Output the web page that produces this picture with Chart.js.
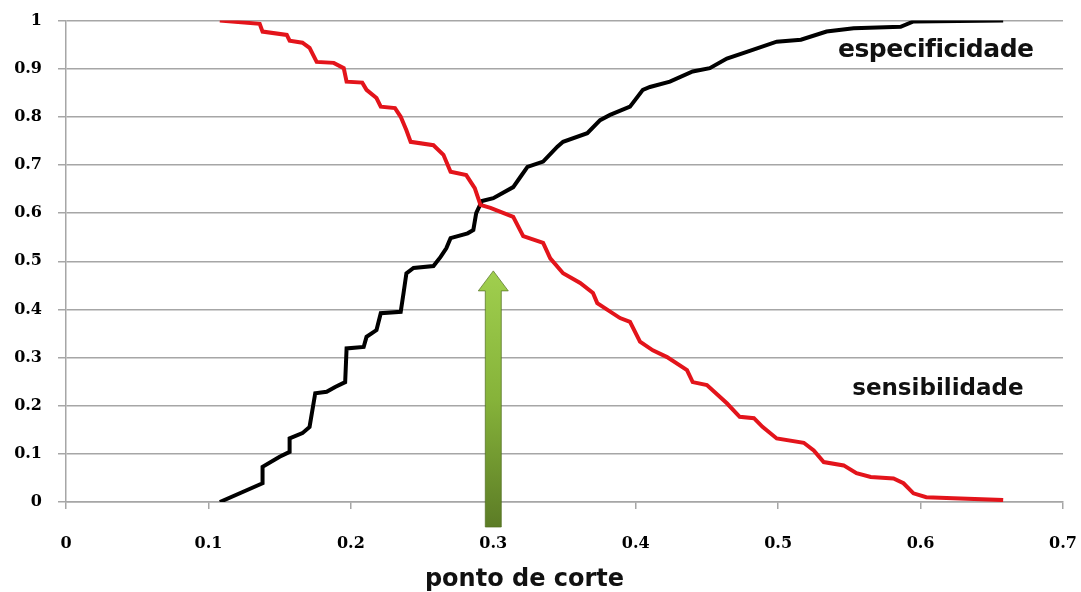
<!DOCTYPE html>
<html>
<head>
<meta charset="utf-8">
<script src="https://cdn.jsdelivr.net/npm/chart.js@4/dist/chart.umd.min.js"></script>
<style>
  html, body { margin: 0; padding: 0; background: #fff; }
  #wrap { width: 1081px; height: 592px; }
</style>
</head>
<body>
<div id="wrap"><canvas id="cutoffChart"></canvas></div>
<script>
// sensibilidade (red)
const sensX = [0.108, 0.136, 0.138, 0.155, 0.157, 0.166, 0.171, 0.176, 0.188, 0.195, 0.197, 0.208, 0.211, 0.218, 0.221,
  0.231, 0.235, 0.239, 0.242, 0.258, 0.265, 0.270, 0.281, 0.287, 0.291, 0.298, 0.314, 0.321, 0.335, 0.340, 0.349,
  0.361, 0.370, 0.373, 0.389, 0.396, 0.403, 0.412, 0.422, 0.436, 0.440, 0.450, 0.464, 0.473, 0.483, 0.489, 0.499,
  0.518, 0.525, 0.532, 0.546, 0.555, 0.565, 0.581, 0.588, 0.595, 0.604, 0.623, 0.658];
const sensY = [1.0, 0.993, 0.977, 0.970, 0.958, 0.954, 0.943, 0.914, 0.912, 0.901, 0.873, 0.871, 0.856, 0.839, 0.821,
  0.818, 0.800, 0.772, 0.748, 0.741, 0.721, 0.686, 0.679, 0.652, 0.617, 0.611, 0.592, 0.552, 0.538, 0.506, 0.475,
  0.455, 0.434, 0.413, 0.382, 0.374, 0.333, 0.315, 0.301, 0.274, 0.249, 0.243, 0.205, 0.177, 0.174, 0.156, 0.132,
  0.123, 0.107, 0.083, 0.076, 0.060, 0.052, 0.049, 0.039, 0.018, 0.010, 0.008, 0.004];

// especificidade (black)
const espX = [0.108, 0.138, 0.138, 0.150, 0.157, 0.157, 0.166, 0.171, 0.175, 0.183, 0.189, 0.196, 0.197, 0.209, 0.211,
  0.218, 0.221, 0.235, 0.237, 0.239, 0.244, 0.258, 0.263, 0.267, 0.270, 0.282, 0.286, 0.288, 0.292, 0.300, 0.314,
  0.319, 0.324, 0.335, 0.345, 0.349, 0.366, 0.375, 0.382, 0.396, 0.405, 0.410, 0.424, 0.440, 0.452, 0.464, 0.478,
  0.499, 0.516, 0.534, 0.553, 0.586, 0.595, 0.658];
const espY = [0.0, 0.039, 0.073, 0.094, 0.104, 0.132, 0.143, 0.156, 0.226, 0.229, 0.239, 0.249, 0.319, 0.322, 0.343,
  0.357, 0.392, 0.395, 0.434, 0.475, 0.486, 0.490, 0.509, 0.527, 0.548, 0.558, 0.565, 0.600, 0.625, 0.631, 0.654,
  0.675, 0.696, 0.707, 0.738, 0.748, 0.766, 0.793, 0.804, 0.821, 0.856, 0.862, 0.873, 0.894, 0.901, 0.921, 0.935,
  0.956, 0.960, 0.977, 0.984, 0.987, 0.998, 1.0];

const xTicks = [0, 0.1, 0.2, 0.3, 0.4, 0.5, 0.6, 0.7];
const yTicks = [0, 0.1, 0.2, 0.3, 0.4, 0.5, 0.6, 0.7, 0.8, 0.9, 1];
const cutoff = 0.3;
const cutoffLabel = 'ponto de corte';

const toPoints = (xs, ys) => xs.map((x, i) => ({ x: x, y: ys[i] }));

// labels, green arrow
const notes = {
  id: 'notes',
  afterDatasetsDraw(chart) {
    const ctx = chart.ctx;
    const xs = chart.scales.x, ys = chart.scales.y;
    ctx.save();
    ctx.fillStyle = '#111';
    ctx.textBaseline = 'alphabetic';
    ctx.font = 'bold 25px "DejaVu Sans"';
    ctx.letterSpacing = '-0.5px';
    ctx.fillText('especificidade', xs.getPixelForValue(0.542), ys.getPixelForValue(0.925));
    ctx.font = 'bold 23px "DejaVu Sans"';
    ctx.letterSpacing = '0px';
    ctx.fillText('sensibilidade', xs.getPixelForValue(0.552), ys.getPixelForValue(0.222));
    ctx.font = 'bold 24px "DejaVu Sans"';
    ctx.fillText(cutoffLabel, xs.getPixelForValue(0.252), chart.chartArea.bottom + 84);

    // arrow
    const cx = xs.getPixelForValue(cutoff);
    const tip = ys.getPixelForValue(0.48);
    const bottom = chart.chartArea.bottom + 25;
    const headW = 15, headH = 20, shaftW = 8;
    const grad = ctx.createLinearGradient(0, tip, 0, bottom);
    grad.addColorStop(0, '#a0cf4e');
    grad.addColorStop(0.5, '#86b33a');
    grad.addColorStop(1, '#5c7c26');
    ctx.beginPath();
    ctx.moveTo(cx, tip);
    ctx.lineTo(cx + headW, tip + headH);
    ctx.lineTo(cx + shaftW, tip + headH);
    ctx.lineTo(cx + shaftW, bottom);
    ctx.lineTo(cx - shaftW, bottom);
    ctx.lineTo(cx - shaftW, tip + headH);
    ctx.lineTo(cx - headW, tip + headH);
    ctx.closePath();
    ctx.fillStyle = grad;
    ctx.fill();
    ctx.strokeStyle = 'rgba(80,110,30,0.7)';
    ctx.lineWidth = 1;
    ctx.stroke();
    ctx.restore();
  }
};

const tickFont = { family: '"DejaVu Serif"', size: 16, weight: 'bold' };

new Chart(document.getElementById('cutoffChart').getContext('2d'), {
  type: 'scatter',
  data: {
    datasets: [
      {
        label: 'sensibilidade',
        data: toPoints(sensX, sensY),
        showLine: true,
        borderColor: '#e3141b',
        borderWidth: 4,
        pointRadius: 0,
        tension: 0
      },
      {
        label: 'especificidade',
        data: toPoints(espX, espY),
        showLine: true,
        borderColor: '#000000',
        borderWidth: 4,
        pointRadius: 0,
        tension: 0
      }
    ]
  },
  options: {
    responsive: true,
    maintainAspectRatio: false,
    animation: false,
    layout: { padding: 0 },
    plugins: { legend: { display: false }, tooltip: { enabled: false } },
    scales: {
      x: {
        type: 'linear',
        min: 0,
        max: 0.7,
        afterBuildTicks: s => { s.ticks = xTicks.map(v => ({ value: v })); },
        afterFit: s => { s.height = 90; s.paddingLeft = 0; s.paddingRight = 18; },
        grid: { drawOnChartArea: false, drawTicks: true, tickLength: 7, color: '#a6a6a6', lineWidth: 1.5 },
        border: { display: true, color: '#a6a6a6', width: 1.5 },
        ticks: { font: tickFont, color: '#000', padding: 25, maxRotation: 0, callback: v => String(v) }
      },
      y: {
        min: 0,
        max: 1,
        afterBuildTicks: s => { s.ticks = yTicks.map(v => ({ value: v })); },
        afterFit: s => { s.width = 66; s.paddingTop = 20.5; s.paddingBottom = 0; },
        grid: { color: '#a6a6a6', lineWidth: 1.5, tickLength: 8 },
        border: { display: true, color: '#a6a6a6', width: 1.5 },
        ticks: { font: tickFont, color: '#000', padding: 16, callback: v => String(v) }
      }
    }
  },
  plugins: [notes]
});
</script>
</body>
</html>
